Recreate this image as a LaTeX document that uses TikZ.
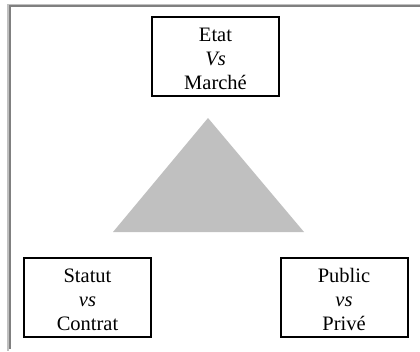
\documentclass[tikz,border=0pt]{standalone}
\usepackage{fontspec}
\setmainfont{Liberation Serif}
\usepackage{xcolor}
\definecolor{cadregris}{HTML}{808080}
\definecolor{cadreclair}{HTML}{C0C0C0}
\definecolor{trigris}{HTML}{C0C0C0}
\tikzset{
  choix/.style={draw, line width=2pt, minimum width=127pt, minimum height=79pt,
    inner sep=0pt, text height=66pt, text depth=0pt, align=center,
    font=\fontsize{20.5}{24}\selectfont},
}

\begin{document}
\begin{tikzpicture}[x=1pt,y=-1pt]
              \useasboundingbox (0,0) rectangle (420,351);
              \fill[white] (0,0) rectangle (420,351);
              % cadre
              \fill[cadreclair] (7,4) rectangle (9,351);
              \fill[cadreclair] (7,4) rectangle (420,5);
              \fill[cadregris] (9,5) rectangle (11,349);
              \fill[cadregris] (9,5) rectangle (420,7);
              % triangle
              \fill[trigris] (208,118) -- (304,232) -- (113,232) -- cycle;
              \node[choix] (etat) at (215.5,56.5) {Etat\\\textit{Vs}\\Marché};
              \node[choix] (statut) at (87.5,297) {Statut\\\textit{vs}\\Contrat};
              \node[choix] (public) at (344,297) {Public\\\textit{vs}\\Privé};
            \end{tikzpicture}
\end{document}
